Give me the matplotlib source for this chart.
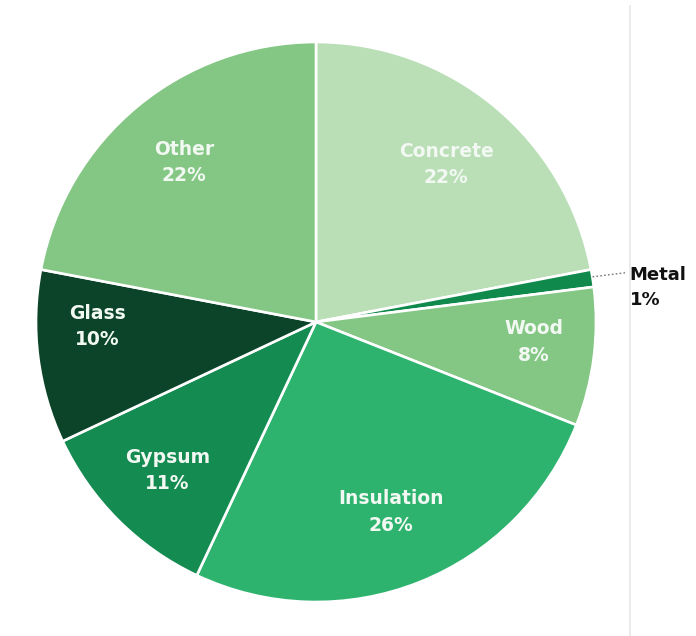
import numpy as np
import matplotlib
matplotlib.use("Agg")
import matplotlib.pyplot as plt

# waste composition by material, clockwise from 12 o'clock
materials = ["Concrete", "Metal", "Wood", "Insulation", "Gypsum", "Glass", "Other"]
shares = [22, 1, 8, 26, 11, 10, 22]
colors = ["#badfb7", "#0f8a4c", "#84c785", "#2eb36f", "#148b51", "#0b4428", "#84c785"]

# label placement tweaks (radius, angle shift in degrees)
label_pos = {
    "Concrete": (0.73, 0.0),
    "Wood": (0.78, 2.0),
    "Insulation": (0.73, 0.0),
    "Gypsum": (0.75, 0.0),
    "Glass": (0.78, -6.0),
    "Other": (0.74, 0.0),
}

plt.rcParams["font.family"] = ["DejaVu Sans"]

fig = plt.figure(figsize=(6.96, 6.36), dpi=100)
ax = fig.add_axes([0, 0, 1, 1])

wedges, _ = ax.pie(shares, colors=colors, startangle=90, counterclock=False,
                   radius=1.0, center=(0, 0),
                   wedgeprops=dict(edgecolor="white", linewidth=1.9))

for w, name, val in zip(wedges, materials, shares):
    mid = (w.theta1 + w.theta2) / 2
    if name == "Metal":
        # small slice: label sits outside with a dotted leader
        a = np.deg2rad(mid)
        x0, y0 = np.cos(a), np.sin(a)
        ax.plot([x0, 1.11], [y0 + 0.005, y0 + 0.02], color="#777777", lw=1.0,
                linestyle=(0, (1.2, 1.6)))
        ax.text(1.12, y0 - 0.035, f"{name}\n{val}%", ha="left", va="center",
                fontsize=13, fontweight="bold", color="#111111", linespacing=1.5)
        continue
    r, shift = label_pos[name]
    a = np.deg2rad(mid + shift)
    ax.text(np.cos(a) * r, np.sin(a) * r, f"{name}\n{val}%", ha="center",
            va="center", fontsize=13.5, fontweight="bold", color="#f2f8f2",
            linespacing=1.5)

# thin divider on the right
ax.plot([1.121, 1.121], [1.129, -1.125], color="#ebebeb", lw=1.4)

ax.set_xlim(-316 / 280, 380 / 280)
ax.set_ylim(-314 / 280, 322 / 280)
ax.set_aspect("auto")
ax.axis("off")

fig.savefig("out.png", dpi=100)
